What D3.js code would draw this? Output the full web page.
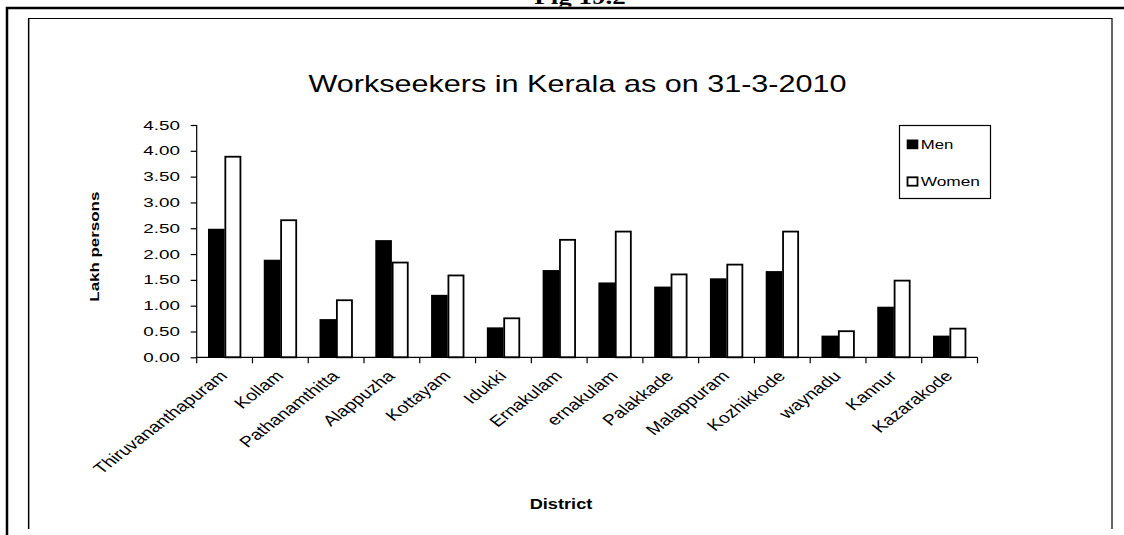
<!DOCTYPE html>
<html><head><meta charset="utf-8">
<script src="https://cdn.jsdelivr.net/npm/d3@7"></script>
<style>body{margin:0;background:#fff} svg{display:block}</style>
</head><body><svg id="c" width="1124" height="535"></svg>
<script>
const districts = ["Thiruvananthapuram","Kollam","Pathanamthitta","Alappuzha","Kottayam","Idukki","Ernakulam","ernakulam","Palakkade","Malappuram","Kozhikkode","waynadu","Kannur","Kazarakode"];
const men   = [2.49,1.89,0.74,2.27,1.21,0.58,1.69,1.45,1.37,1.53,1.67,0.42,0.98,0.42];
const women = [3.90,2.67,1.12,1.85,1.60,0.77,2.29,2.45,1.62,1.81,2.45,0.52,1.50,0.57];
const seriesNames = ["Men","Women"];
const yTicks = [0,0.5,1,1.5,2,2.5,3,3.5,4,4.5];
const chartTitle = "Workseekers in Kerala as on 31-3-2010";
const yTitle = "Lakh persons";
const xTitle = "District";
const figLabel = "Fig 19.2";

const svg = d3.select("#c");
const FONT = "'Liberation Sans', Arial, sans-serif";

function stretchText(g, x, yy, sx, rot){
  return g.attr("transform",`translate(${x},${yy}) scale(${sx},1)` + (rot?` rotate(${rot})`:""));
}

// frames
stretchText(svg.append("text"), 580, 4, 1.35).attr("text-anchor","middle")
  .attr("font-family","'Liberation Serif', 'Times New Roman', serif").attr("font-weight","bold")
  .attr("font-size",20).text(figLabel);
svg.append("rect").attr("x",0).attr("y",6.5).attr("width",1124).attr("height",1.5).attr("fill","#fff");
svg.append("path").attr("d","M7,535V8H1124").attr("fill","none").attr("stroke","#000").attr("stroke-width",2.5);
svg.append("path").attr("d","M28.5,529V18.5H1112V529").attr("fill","none").attr("stroke","#000").attr("stroke-width",1.2);
svg.append("line").attr("x1",29.5).attr("x2",29.5).attr("y1",19).attr("y2",529).attr("stroke","#999").attr("stroke-width",1);

const pLeft = 196.7, pRight = 977.5, pTop = 125, pBottom = 357.3;
const x0 = d3.scaleBand().domain(districts).range([pLeft,pRight]).padding(0);
const x1 = d3.scaleBand().domain(seriesNames).range([0,x0.bandwidth()]).paddingInner(0).paddingOuter(0.68);
const y = d3.scaleLinear().domain([0,4.5]).range([pBottom,pTop]);

// title
stretchText(svg.append("text"), 577.5, 92, 1.33).attr("text-anchor","middle")
  .attr("font-family",FONT).attr("font-size",23).attr("fill","#000").text(chartTitle);

// bars
const data = districts.map((d,i)=>({d, vals:[{s:"Men",v:men[i]},{s:"Women",v:women[i]}]}));
const grp = svg.append("g").selectAll("g").data(data).join("g")
  .attr("transform",d=>`translate(${x0(d.d)},0)`);
grp.selectAll("rect").data(d=>d.vals).join("rect")
  .attr("x",d=>x1(d.s)+ (d.s==="Women"?0.75:0))
  .attr("width",d=>x1.bandwidth() - (d.s==="Women"?1.5:0))
  .attr("y",d=>y(d.v) + (d.s==="Women"?0.75:0))
  .attr("height",d=>pBottom - y(d.v) - (d.s==="Women"?0.75:0))
  .attr("fill",d=>d.s==="Men"?"#000":"#fff")
  .attr("stroke","#000").attr("stroke-width",d=>d.s==="Women"?1.8:0);

// y axis
const yAxis = svg.append("g").attr("transform",`translate(${pLeft},0)`)
  .call(d3.axisLeft(y).tickValues(yTicks).tickSize(6).tickFormat(()=>""));
yAxis.select(".domain").attr("d",`M0,${pBottom}V${pTop}`).attr("stroke","#000").attr("stroke-width",1.2);
yAxis.selectAll(".tick line").attr("stroke","#000").attr("stroke-width",1.2);
svg.append("g").selectAll("text").data(yTicks).join("text")
  .each(function(t){ stretchText(d3.select(this), 180, y(t)+4.6, 1.45); })
  .attr("text-anchor","end").attr("font-family",FONT).attr("font-size",13).attr("fill","#000")
  .text(t=>d3.format(".2f")(t));

// x axis
const xAxis = svg.append("g").attr("transform",`translate(0,${pBottom})`)
  .call(d3.axisBottom(x0).tickSize(0).tickFormat(()=>""));
xAxis.select(".domain").attr("d",`M${pLeft},0H${pRight}`).attr("stroke","#000").attr("stroke-width",1.2);
xAxis.selectAll(".tick").remove();
const tickXs = districts.map(d=>x0(d)).concat([pRight]);
xAxis.selectAll("line.ct").data(tickXs).join("line").attr("class","ct")
  .attr("x1",d=>d).attr("x2",d=>d).attr("y1",0).attr("y2",6).attr("stroke","#000").attr("stroke-width",1.2);
svg.append("g").selectAll("text").data(districts).join("text")
  .each(function(d){ stretchText(d3.select(this), x0(d)+x0.bandwidth()/2+4, 377, 1.3, -45); })
  .attr("text-anchor","end").attr("font-family",FONT).attr("font-size",15).attr("fill","#000")
  .text(d=>d);

// axis titles
svg.append("text").attr("transform","translate(99,246.7) rotate(-90)").attr("text-anchor","middle")
  .attr("font-family",FONT).attr("font-weight","bold").attr("font-size",13)
  .attr("textLength",110).attr("lengthAdjust","spacingAndGlyphs").text(yTitle);
stretchText(svg.append("text"), 561, 509, 1.3).attr("text-anchor","middle")
  .attr("font-family",FONT).attr("font-weight","bold").attr("font-size",14).text(xTitle);

// legend
const lg = svg.append("g");
lg.append("rect").attr("x",899.5).attr("y",125.5).attr("width",91).attr("height",73)
  .attr("fill","#fff").attr("stroke","#000").attr("stroke-width",1.2);
const legY = [139.5,176.5];
seriesNames.forEach((s,i)=>{
  lg.append("rect").attr("x",s==="Men"?906.7:907.5).attr("y",legY[i]+(s==="Men"?0:0.8))
    .attr("width",s==="Men"?11.6:10).attr("height",s==="Men"?9.7:8.4)
    .attr("fill",s==="Men"?"#000":"#fff").attr("stroke","#000").attr("stroke-width",s==="Men"?0:1.8);
  lg.append("text").attr("x",920.7).attr("y",legY[i]+9.6).attr("font-family",FONT).attr("font-size",13.5)
    .attr("textLength",s==="Men"?32.6:59.3).attr("lengthAdjust","spacingAndGlyphs").text(s);
});
</script></body></html>
